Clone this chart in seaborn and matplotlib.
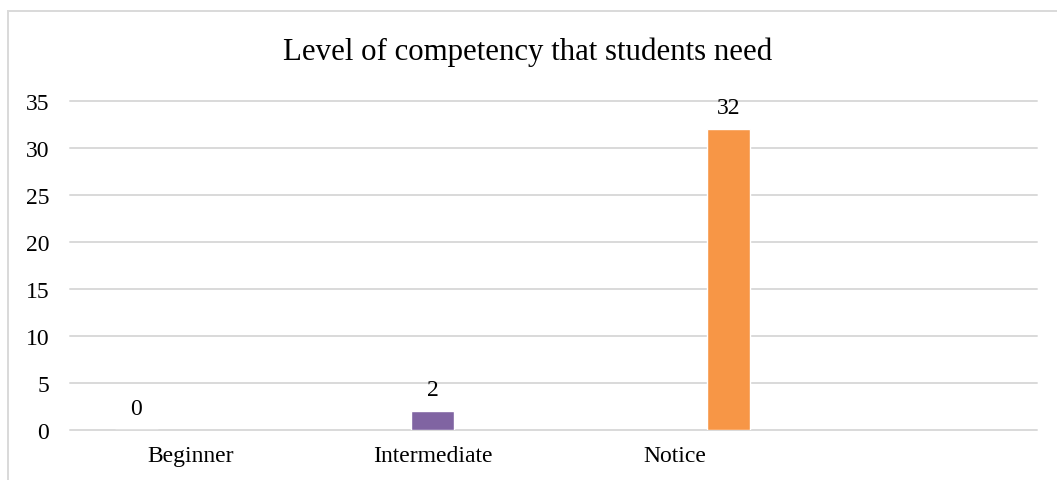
import matplotlib
matplotlib.use("Agg")
import matplotlib.pyplot as plt
import seaborn as sns
import pandas as pd
from matplotlib.patches import Rectangle

# Survey answers: one series per competency level
levels = ["Beginner", "Intermediate", "Notice"]
counts = [0, 2, 32]
series_colors = ["#4F81BD", "#8064A2", "#F79646"]
y_ticks = [0, 5, 10, 15, 20, 25, 30, 35]
title = "Level of competency that students need"

df = pd.DataFrame({"level": levels, "series": levels, "count": counts})

sns.set_theme(style="white")
plt.rcParams["font.family"] = ["Liberation Serif", "DejaVu Serif"]

W, H = 1057, 481
fig = plt.figure(figsize=(W / 100, H / 100), dpi=100)
fig.patch.set_facecolor("white")
ax = fig.add_axes([70 / W, 1 - 431 / H, 967 / W, 329 / H])

sns.barplot(
    data=df, x="level", y="count", hue="series",
    order=levels, hue_order=levels, palette=series_colors,
    dodge=True, width=0.675, gap=0.21, saturation=1, legend=False, ax=ax,
)

for cont in ax.containers:
    ax.bar_label(cont, fmt="%d", padding=8, fontsize=17, color="black")

ax.set_xlim(-0.5, 3.5)
ax.set_ylim(0, 35)
ax.set_yticks(y_ticks)
ax.set_xlabel("")
ax.set_ylabel("")
ax.yaxis.grid(True, color="#D9D9D9", linewidth=1.4)
ax.xaxis.grid(False)
ax.set_axisbelow(True)
for s in ax.spines.values():
    s.set_visible(False)
ax.tick_params(axis="y", length=0, pad=15, labelsize=17, labelcolor="black")
ax.tick_params(axis="x", length=0, pad=11, labelsize=17, labelcolor="black")
for gl in ax.get_ygridlines():
    gl.set_clip_on(False)

fig.text(527.5 / W, 1 - 52 / H, title, ha="center", va="center",
         fontsize=22.2, color="black")

# chart frame
fig.patches.append(Rectangle((7.5 / W, -0.1), 1.2, 1.1 - 11.5 / H,
                             transform=fig.transFigure, fill=False,
                             edgecolor="#D9D9D9", linewidth=1.4))

fig.savefig("out.png", dpi=100, facecolor="white")
